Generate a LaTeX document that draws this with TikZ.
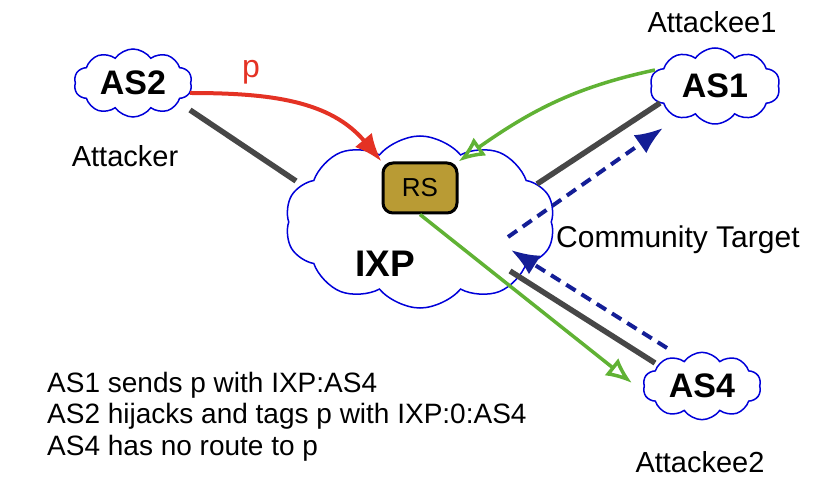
\documentclass[tikz,border=0pt]{standalone}
\usepackage{fontspec}
\setmainfont{Liberation Sans}
\usetikzlibrary{shapes.symbols,arrows.meta}
\definecolor{rsfill}{RGB}{185,155,52}
\definecolor{arrowgreen}{RGB}{96,178,52}
\definecolor{arrowred}{RGB}{228,50,36}
\definecolor{dashblue}{RGB}{20,30,150}
\begin{document}
\begin{tikzpicture}
        [x=1pt,y=-1pt,
        cloudy/.style={draw=blue!85!black,line width=1.5pt,cloud,cloud puffs=10,cloud puff arc=110,aspect=1.7,inner sep=0,font=\bfseries\fontsize{34}{36}\selectfont},
        link/.style={line width=5.5pt,black!72},
        txt/.style={font=\fontsize{28}{32}\selectfont,inner sep=0}]

        \useasboundingbox (0,0) rectangle (828,494);

        \node[cloudy,minimum width=118,minimum height=68] (as2) at (133,83) {AS2};
        \node[cloudy,minimum width=130,minimum height=76] (as1) at (715,86) {AS1};
        \node[cloudy,minimum width=118,minimum height=66] (as4) at (702,386) {AS4};
        \node[cloudy,minimum width=270,minimum height=172,cloud puffs=10,cloud puff arc=100] (ixp) at (420,222) {};
        \node[draw,line width=3pt,rounded corners=10pt,fill=rsfill,minimum width=74,minimum height=50,font=\fontsize{26}{28}\selectfont] (rs) at (420,188) {RS};
        \node[font=\bfseries\fontsize{37}{40}\selectfont] (ixplbl) at (385,264) {IXP};

        \node[txt,font=\fontsize{29}{32}\selectfont] (attacker) at (125,156) {Attacker};
        \node[txt,font=\fontsize{29}{32}\selectfont] (attackee1) at (712,22) {Attackee1};
        \node[txt,font=\fontsize{29}{32}\selectfont] (attackee2) at (700,462) {Attackee2};
        \node[txt,anchor=west,font=\fontsize{30}{32}\selectfont] (comm) at (556,240) {Community Target};
        \node[txt,text=arrowred,font=\fontsize{32}{34}\selectfont] (plbl) at (251,72) {p};
        \node[txt,anchor=west] (l1) at (47,385) {AS1 sends p with IXP:AS4};
        \node[txt,anchor=west] (l2) at (47,416) {AS2 hijacks and tags p with IXP:0:AS4};
        \node[txt,anchor=west] (l3) at (47,448) {AS4 has no route to p};

        % links
        \coordinate (a2out) at (190,110);
        \coordinate (a2in) at (296,181);
        \draw[link] (a2out) -- (a2in);
        \coordinate (a1in) at (537,184);
        \coordinate (a1out) at (660,103);
        \draw[link] (a1in) -- (a1out);
        \coordinate (a4in) at (510,271);
        \coordinate (a4out) at (655,363);
        \draw[link] (a4in) -- (a4out);

        % announcements
        \coordinate (pstart) at (190,93);
        \draw[arrowred,line width=4pt,-{Latex[length=28pt,width=22pt]}] (pstart) to[out=0,in=130] (rs.north west);
        \coordinate (g1) at (655,70);
        \draw[arrowgreen,line width=3.5pt,-{Latex[open,length=26pt,width=22pt]}] (g1) to[out=192,in=35] (rs.north east);
        \coordinate (g2) at (632,383);
        \draw[arrowgreen,line width=3.5pt,-{Latex[open,length=26pt,width=22pt]}] (rs.south) -- (g2);

        % community
        \coordinate (c0) at (667,348);
        \coordinate (c1) at (511,250);
        \coordinate (c2) at (508,237);
        \coordinate (c3) at (663,128);
        \draw[dashblue,line width=4pt,dash pattern=on 11pt off 7pt,-{Latex[length=28pt,width=22pt]}] (c0) -- (c1);
        \draw[dashblue,line width=4pt,dash pattern=on 11pt off 7pt,-{Latex[length=28pt,width=22pt]}] (c2) -- (c3);
\end{tikzpicture}
\end{document}
